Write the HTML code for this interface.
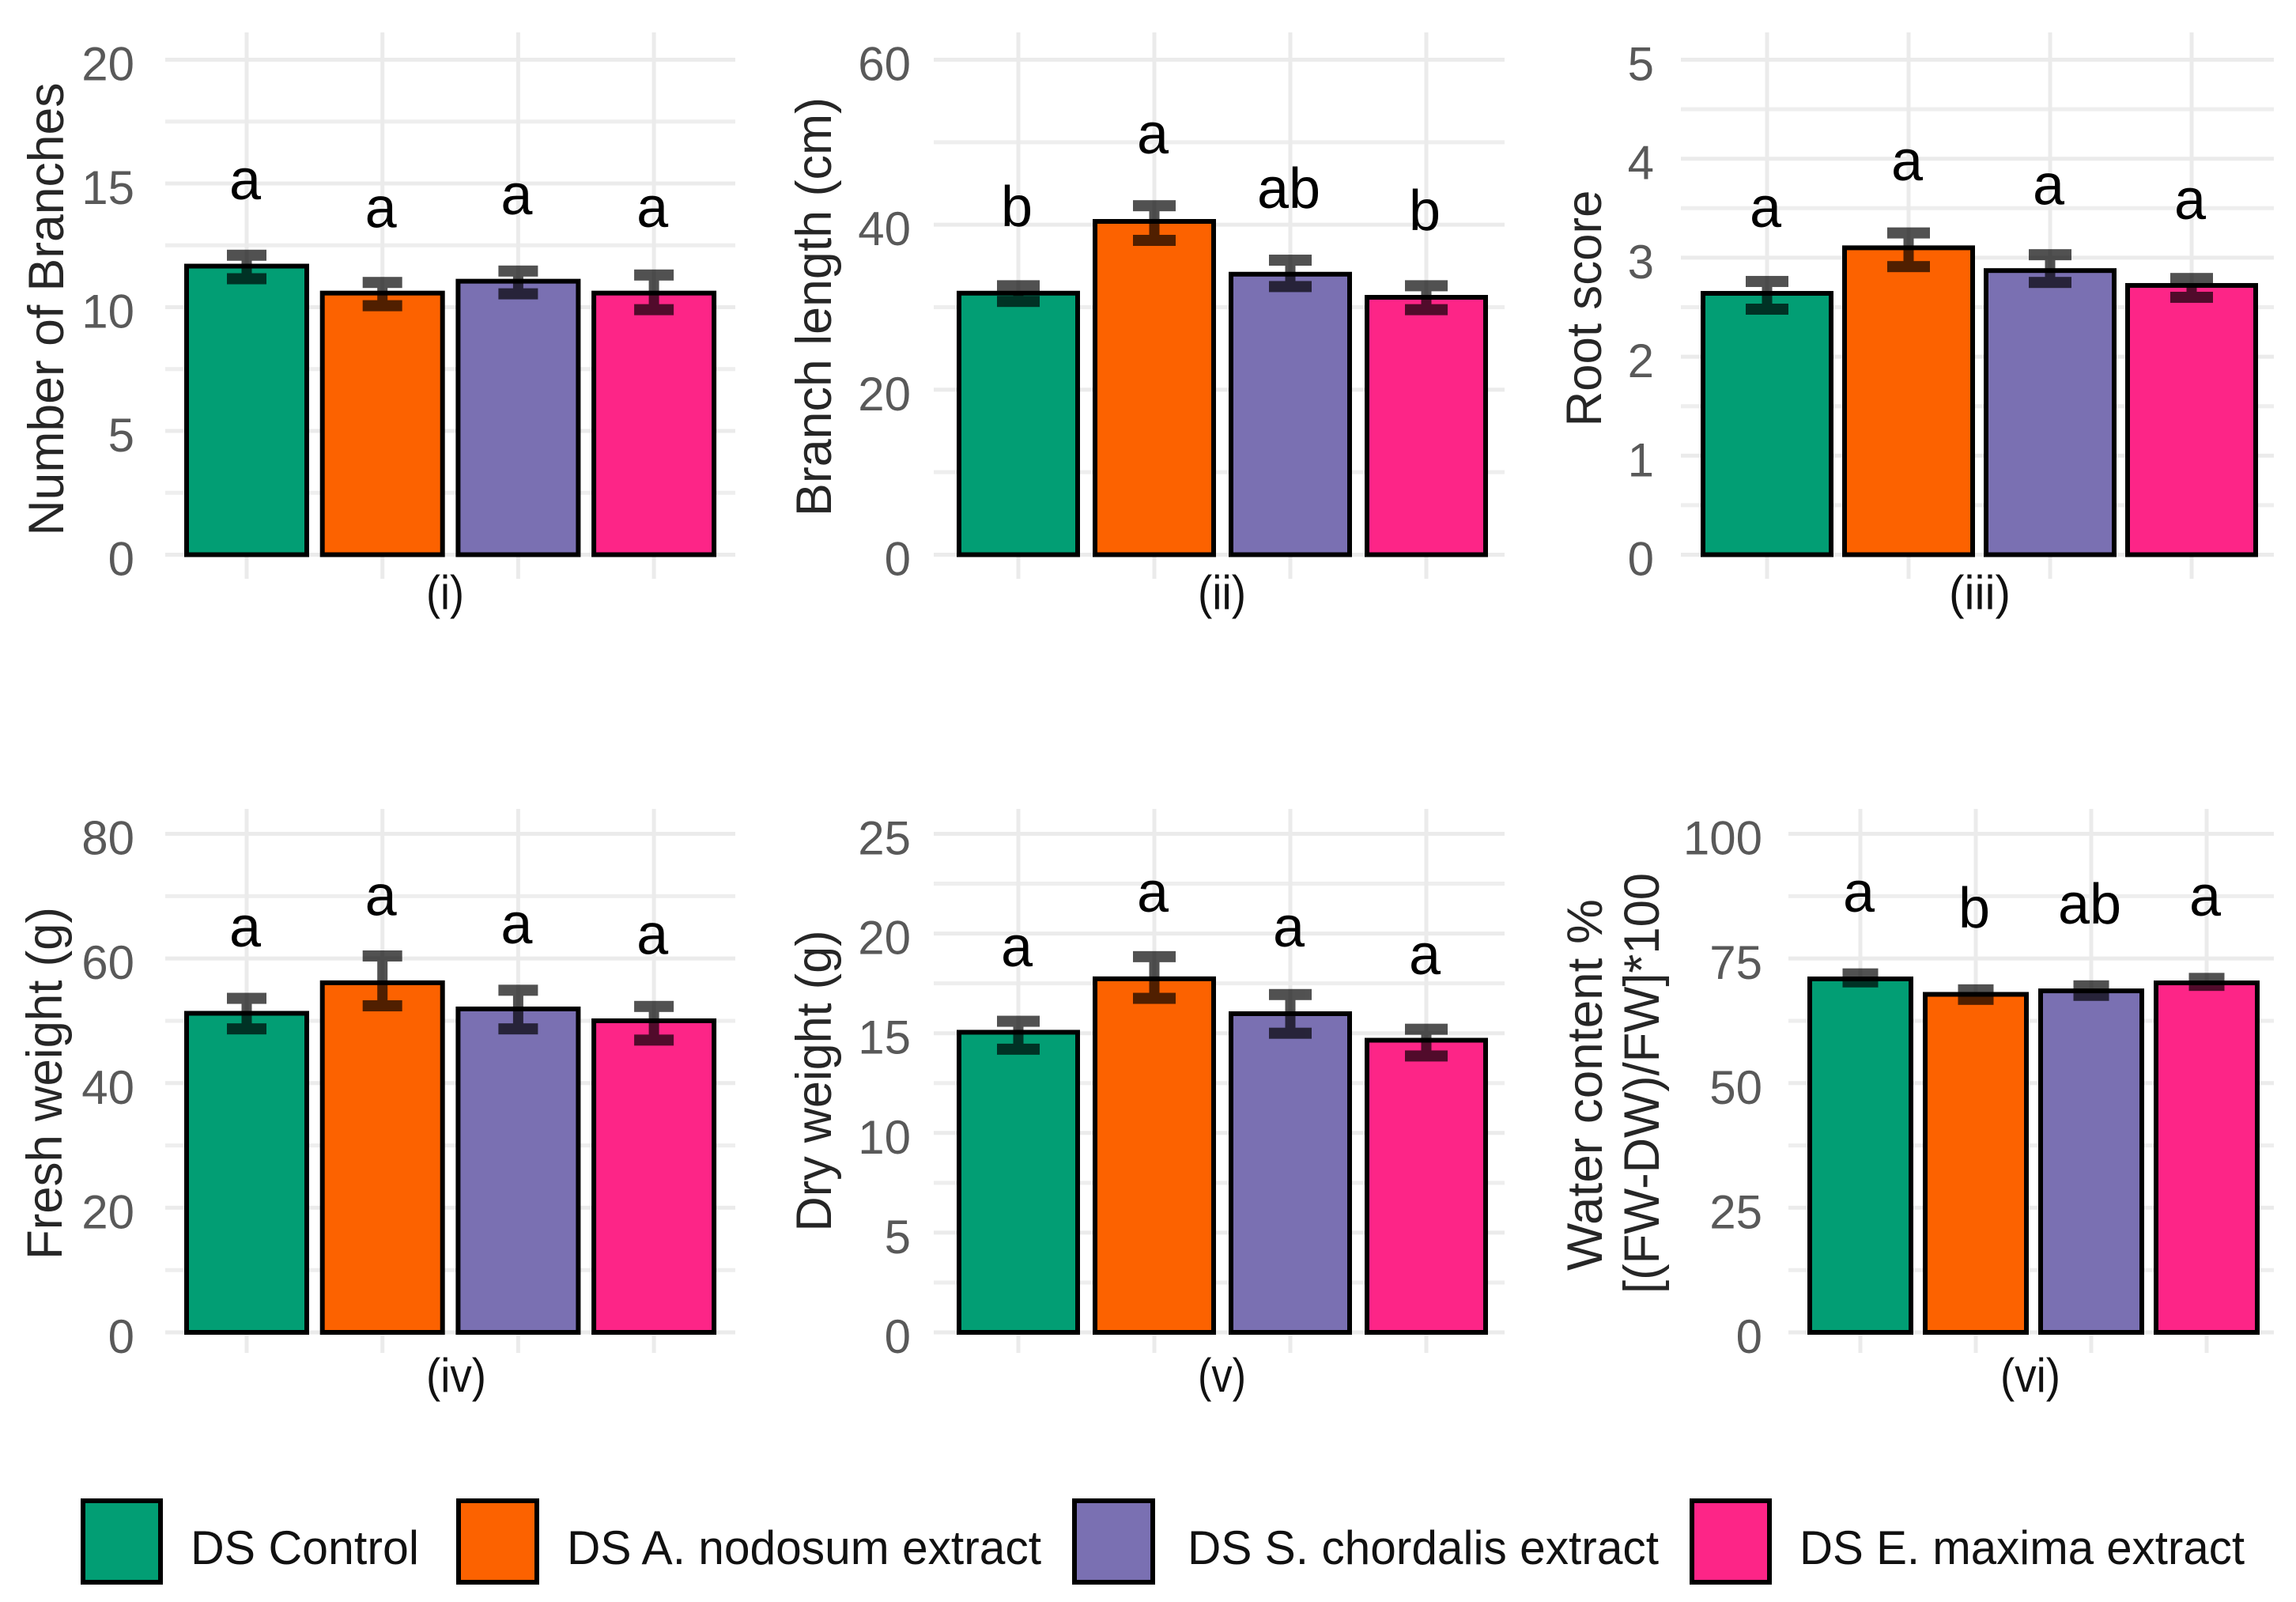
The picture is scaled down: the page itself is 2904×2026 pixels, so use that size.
<!DOCTYPE html>
<html lang="en">
<head>
<meta charset="utf-8">
<title>Drought stress plant traits by seaweed extract treatment</title>
<style>
  html, body { margin: 0; padding: 0; background: #ffffff; }
  svg { display: block; }
  text { font-family: "Liberation Sans", Arial, sans-serif; }
  .axis-title { font-size: 63px; fill: #262626; }
  .caption { font-size: 60px; fill: #111111; }
  .legend-text { font-size: 60px; fill: #111111; }
</style>
</head>
<body>
<svg id="figure" xmlns="http://www.w3.org/2000/svg" width="2904" height="2026" viewBox="0 0 2904 2026">
  <rect x="0" y="0" width="2904" height="2026" fill="#ffffff"/>
  <g id="panels"></g>

  <text class="axis-title" x="80" y="391" text-anchor="middle" textLength="573" lengthAdjust="spacingAndGlyphs" transform="rotate(-90 80 391)">Number of Branches</text>
  <text class="axis-title" x="1051" y="388" text-anchor="middle" textLength="530" lengthAdjust="spacingAndGlyphs" transform="rotate(-90 1051 388)">Branch length (cm)</text>
  <text class="axis-title" x="2025" y="390" text-anchor="middle" textLength="299" lengthAdjust="spacingAndGlyphs" transform="rotate(-90 2025 390)">Root score</text>
  <text class="axis-title" x="78" y="1370" text-anchor="middle" textLength="446" lengthAdjust="spacingAndGlyphs" transform="rotate(-90 78 1370)">Fresh weight (g)</text>
  <text class="axis-title" x="1051" y="1367" text-anchor="middle" textLength="381" lengthAdjust="spacingAndGlyphs" transform="rotate(-90 1051 1367)">Dry weight (g)</text>
  <text class="axis-title" x="2026" y="1372" text-anchor="middle" textLength="470" lengthAdjust="spacingAndGlyphs" transform="rotate(-90 2026 1372)">Water content %</text>
  <text class="axis-title" x="2098" y="1370" text-anchor="middle" textLength="532" lengthAdjust="spacingAndGlyphs" transform="rotate(-90 2098 1370)">[(FW-DW)/FW]*100</text>

  <text class="caption" x="539" y="770" textLength="48" lengthAdjust="spacingAndGlyphs">(i)</text>
  <text class="caption" x="1515" y="770" textLength="61" lengthAdjust="spacingAndGlyphs">(ii)</text>
  <text class="caption" x="2465" y="770" textLength="78" lengthAdjust="spacingAndGlyphs">(iii)</text>
  <text class="caption" x="539" y="1760" textLength="76" lengthAdjust="spacingAndGlyphs">(iv)</text>
  <text class="caption" x="1515" y="1760" textLength="61" lengthAdjust="spacingAndGlyphs">(v)</text>
  <text class="caption" x="2530" y="1760" textLength="76" lengthAdjust="spacingAndGlyphs">(vi)</text>

  <g>
    <g>
      <rect x="105" y="1898" width="98" height="103" fill="#029e74" stroke="#000" stroke-width="6"/>
      <text class="legend-text" x="241" y="1978" textLength="289" lengthAdjust="spacingAndGlyphs">DS Control</text>
    </g>
    <g>
      <rect x="580" y="1898" width="99" height="103" fill="#fc6200" stroke="#000" stroke-width="6"/>
      <text class="legend-text" x="717" y="1978" textLength="600" lengthAdjust="spacingAndGlyphs">DS A. nodosum extract</text>
    </g>
    <g>
      <rect x="1359" y="1898" width="99" height="103" fill="#7a70b2" stroke="#000" stroke-width="6"/>
      <text class="legend-text" x="1502" y="1978" textLength="596" lengthAdjust="spacingAndGlyphs">DS S. chordalis extract</text>
    </g>
    <g>
      <rect x="2140" y="1898" width="98" height="103" fill="#fd2587" stroke="#000" stroke-width="6"/>
      <text class="legend-text" x="2276" y="1978" textLength="563" lengthAdjust="spacingAndGlyphs">DS E. maxima extract</text>
    </g>
  </g>
</svg>

<script>
// Treatments, shared by all panels
const categories = ["DS Control", "DS A. nodosum extract", "DS S. chordalis extract", "DS E. maxima extract"];

// (i) Number of branches
const branchesTicks = [0, 5, 10, 15, 20];
const branchesMeans = [11.66, 10.57, 11.05, 10.57];
const branchesUpper = [12.1, 11.0, 11.46, 11.3];
const branchesLower = [11.15, 10.06, 10.54, 9.9];
const branchesLetters = ["a", "a", "a", "a"];
const branchesLetterY = [14.36, 13.22, 13.76, 13.25];

// (ii) Branch length
const lengthTicks = [0, 20, 40, 60];
const lengthMeans = [31.7, 40.4, 34.0, 31.2];
const lengthUpper = [32.6, 42.3, 35.7, 32.6];
const lengthLower = [30.7, 38.1, 32.5, 29.7];
const lengthLetters = ["b", "a", "ab", "b"];
const lengthLetterY = [39.84, 48.63, 42.04, 39.36];

// (iii) Root score
const rootTicks = [0, 1, 2, 3, 4, 5];
const rootMeans = [2.64, 3.1, 2.87, 2.72];
const rootUpper = [2.76, 3.25, 3.03, 2.79];
const rootLower = [2.48, 2.91, 2.75, 2.6];
const rootLetters = ["a", "a", "a", "a"];
const rootLetterY = [3.31, 3.78, 3.54, 3.39];

// (iv) Fresh weight
const freshTicks = [0, 20, 40, 60, 80];
const freshMeans = [51.2, 56.1, 51.9, 50.0];
const freshUpper = [53.6, 60.4, 54.9, 52.3];
const freshLower = [48.7, 52.4, 48.7, 46.9];
const freshLetters = ["a", "a", "a", "a"];
const freshLetterY = [61.9, 66.9, 62.4, 60.7];

// (v) Dry weight
const dryTicks = [0, 5, 10, 15, 20, 25];
const dryMeans = [15.05, 17.73, 15.98, 14.65];
const dryUpper = [15.6, 18.84, 16.94, 15.2];
const dryLower = [14.2, 16.75, 15.0, 13.86];
const dryLetters = ["a", "a", "a", "a"];
const dryLetterY = [18.36, 21.09, 19.35, 17.97];

// (vi) Water content
const waterTicks = [0, 25, 50, 75, 100];
const waterMeans = [70.9, 67.8, 68.5, 70.1];
const waterUpper = [71.9, 68.7, 69.5, 71.0];
const waterLower = [70.3, 66.8, 67.6, 69.6];
const waterLetters = ["a", "b", "ab", "a"];
const waterLetterY = [84.4, 81.2, 82.0, 83.6];

// Fill colours, one per treatment
const barColors = ["#029e74", "#fc6200", "#7a70b2", "#fd2587"];

// Panel geometry and links to the data arrays above
const panels = [
  { id: "branches", ticks: branchesTicks, means: branchesMeans, upper: branchesUpper, lower: branchesLower, letters: branchesLetters, letterY: branchesLetterY,
    left: 209, right: 930, top: 75.5, bottom: 701.5, vTop: 41, vBottom: 732, first: 312, step: 171.7, barW: 158, capW: 50, tickRight: 170 },
  { id: "branch-length", ticks: lengthTicks, means: lengthMeans, upper: lengthUpper, lower: lengthLower, letters: lengthLetters, letterY: lengthLetterY,
    left: 1181, right: 1903, top: 75.5, bottom: 701.5, vTop: 41, vBottom: 732, first: 1288, step: 172, barW: 156, capW: 54, tickRight: 1152 },
  { id: "root-score", ticks: rootTicks, means: rootMeans, upper: rootUpper, lower: rootLower, letters: rootLetters, letterY: rootLetterY,
    left: 2126, right: 2876, top: 75.5, bottom: 701.5, vTop: 41, vBottom: 732, first: 2235, step: 179, barW: 168, capW: 54, tickRight: 2092 },
  { id: "fresh-weight", ticks: freshTicks, means: freshMeans, upper: freshUpper, lower: freshLower, letters: freshLetters, letterY: freshLetterY,
    left: 209, right: 930, top: 1054.5, bottom: 1685, vTop: 1023, vBottom: 1711, first: 312, step: 171.7, barW: 158, capW: 50, tickRight: 170 },
  { id: "dry-weight", ticks: dryTicks, means: dryMeans, upper: dryUpper, lower: dryLower, letters: dryLetters, letterY: dryLetterY,
    left: 1181, right: 1903, top: 1054.5, bottom: 1685, vTop: 1023, vBottom: 1711, first: 1288, step: 172, barW: 156, capW: 54, tickRight: 1152 },
  { id: "water-content", ticks: waterTicks, means: waterMeans, upper: waterUpper, lower: waterLower, letters: waterLetters, letterY: waterLetterY,
    left: 2262, right: 2876, top: 1054.5, bottom: 1685, vTop: 1023, vBottom: 1711, first: 2353, step: 146, barW: 134, capW: 45, tickRight: 2229 }
];

const SVG_NS = "http://www.w3.org/2000/svg";
const root = document.getElementById("panels");

function make(tag, attrs, parent) {
  const node = document.createElementNS(SVG_NS, tag);
  for (const key in attrs) node.setAttribute(key, attrs[key]);
  parent.appendChild(node);
  return node;
}

function drawPanel(p) {
  const maxTick = p.ticks[p.ticks.length - 1];
  const yScale = function (v) { return p.bottom - (v / maxTick) * (p.bottom - p.top); };
  const xScale = function (i) { return p.first + i * p.step; };

  const group = make("g", {}, root);
  
  

  // minor horizontal gridlines at tick midpoints
  for (let t = 0; t < p.ticks.length - 1; t++) {
    const mid = (p.ticks[t] + p.ticks[t + 1]) / 2;
    const minor = make("line", { x1: p.left, x2: p.right, y1: yScale(mid), y2: yScale(mid), stroke: "#eeeeee", "stroke-width": 5 }, group);
    
    
  }

  // major horizontal gridlines and tick labels
  p.ticks.forEach(function (tick) {
    const major = make("line", { x1: p.left, x2: p.right, y1: yScale(tick), y2: yScale(tick), stroke: "#ebebeb", "stroke-width": 5 }, group);
    
    
    const label = make("text", { x: p.tickRight, y: yScale(tick) + 26, "text-anchor": "end", "font-size": 60, fill: "#595959" }, group);
    
    
    label.textContent = String(tick);
  });

  // vertical gridlines
  categories.forEach(function (name, i) {
    const v = make("line", { x1: xScale(i), x2: xScale(i), y1: p.vTop, y2: p.vBottom, stroke: "#ebebeb", "stroke-width": 5 }, group);
    
    
  });

  // bars, error bars, significance letters
  categories.forEach(function (name, i) {
    const cx = xScale(i);
    const top = yScale(p.means[i]);
    const bar = make("rect", { x: cx - p.barW / 2 + 3, y: top, width: p.barW - 6, height: p.bottom - top, fill: barColors[i], stroke: "#000000", "stroke-width": 6 }, group);
    
    

    const err = make("g", { opacity: 0.68, fill: "#000000" }, group);
    
    
    const hi = yScale(p.upper[i]);
    const lo = yScale(p.lower[i]);
    make("rect", { x: cx - 6.5, y: hi, width: 13, height: lo - hi }, err);
    make("rect", { x: cx - p.capW / 2, y: hi - 7, width: p.capW, height: 14 }, err);
    make("rect", { x: cx - p.capW / 2, y: lo - 7, width: p.capW, height: 14 }, err);

    const letter = make("text", { x: cx - 2, y: yScale(p.letterY[i]), "text-anchor": "middle", "font-size": 72, fill: "#000000" }, group);
    
    
    letter.textContent = p.letters[i];
  });
}

panels.forEach(drawPanel);
</script>
</body>
</html>
